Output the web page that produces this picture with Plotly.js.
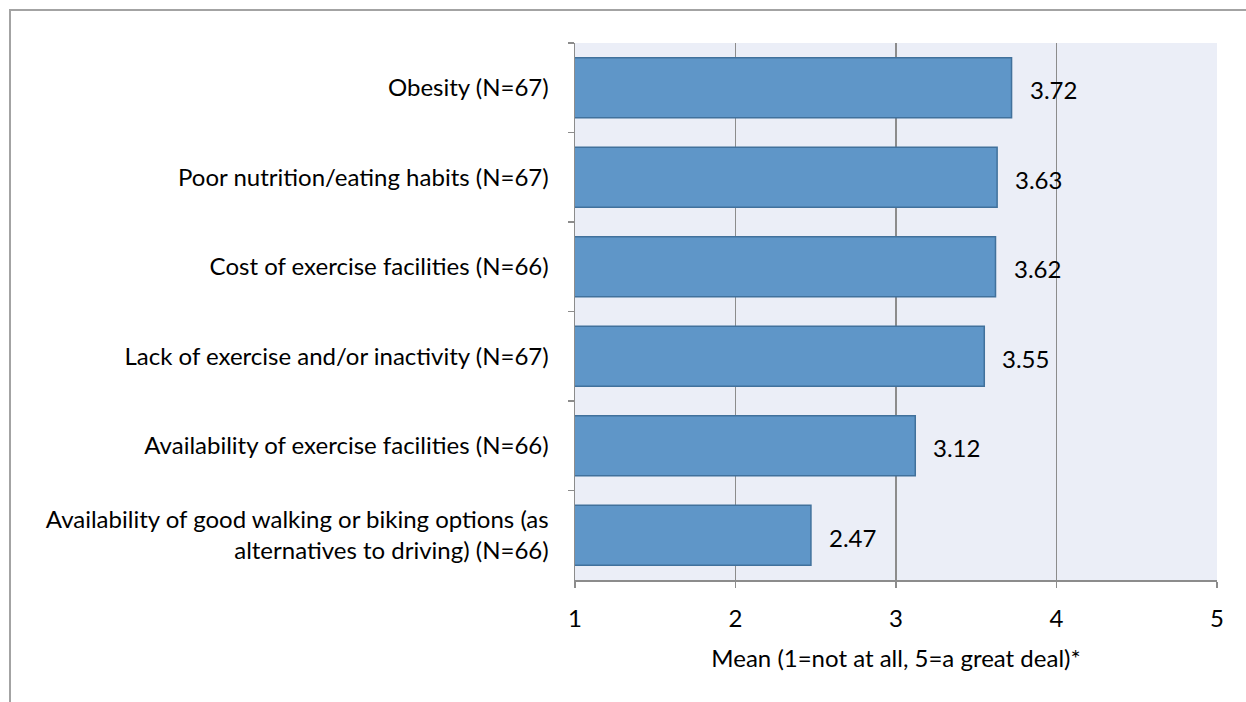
<!DOCTYPE html>
<html>
<head>
<meta charset="utf-8">
<script src="https://cdn.plot.ly/plotly-3.0.1.min.js"></script>
<style>
html,body{margin:0;padding:0;background:#fff;}
#wrap{position:relative;width:1246px;height:702px;overflow:hidden;}
#chart{width:1246px;height:702px;}
#frame{position:absolute;left:9px;top:9px;width:1400px;height:900px;border-left:2px solid #a3a3a3;border-top:2px solid #a3a3a3;pointer-events:none;}
</style>
</head>
<body>
<div id="wrap"><div id="chart"></div><div id="frame"></div></div>
<script>
const categories = [
  "Obesity (N=67)",
  "Poor nutrition/eating habits (N=67)",
  "Cost of exercise facilities (N=66)",
  "Lack of exercise and/or inactivity (N=67)",
  "Availability of exercise facilities (N=66)",
  "Availability of good walking or biking options (as<br>alternatives to driving) (N=66)"
];
const means = [3.72, 3.63, 3.62, 3.55, 3.12, 2.47];
const xTicks = [1, 2, 3, 4, 5];
const xTitle = "Mean (1=not at all, 5=a great deal)*";

const font = "Lato, Open Sans, sans-serif";
const fs = 24;

const trace = {
  type: "bar",
  orientation: "h",
  x: means,
  y: categories,
  width: 0.67,
  marker: {color: "#5F96C8", line: {color: "#41719C", width: 1.5}},
  hoverinfo: "skip"
};

const annotations = means.map((v, i) => ({
  x: v, y: categories[i], xref: "x", yref: "y",
  text: v.toFixed(2), showarrow: false,
  xanchor: "left", xshift: 16, yshift: -2,
  font: {family: font, size: fs, color: "#000"}
}));

const layout = {
  width: 1246, height: 702,
  margin: {l: 575, r: 29, t: 43, b: 122},
  paper_bgcolor: "#ffffff",
  plot_bgcolor: "#EBEEF7",
  showlegend: false,
  font: {family: font, size: fs, color: "#000"},
  xaxis: {
    range: [1, 5],
    tickvals: xTicks,
    ticktext: xTicks.map(String),
    showgrid: true, gridcolor: "#8c8c8c", gridwidth: 1.2,
    zeroline: false,
    showline: true, linecolor: "#8c8c8c", linewidth: 1.5,
    ticks: "outside", ticklen: 6, tickcolor: "#8c8c8c", tickwidth: 1.5,
    ticklabelstandoff: 11,
    tickfont: {family: font, size: fs, color: "#000"},
    title: {text: xTitle, font: {family: font, size: fs, color: "#000"}, standoff: 19}
  },
  yaxis: {
    type: "category",
    autorange: "reversed",
    showgrid: false, zeroline: false,
    showline: true, linecolor: "#8c8c8c", linewidth: 1.5,
    ticks: "outside", ticklen: 6, tickcolor: "#8c8c8c", tickwidth: 1.5,
    tickson: "boundaries",
    ticklabelstandoff: 20,
    tickfont: {family: font, size: fs, color: "#000"}
  },
  annotations: annotations
};

Plotly.newPlot("chart", [trace], layout, {displayModeBar: false, staticPlot: true});
</script>
</body>
</html>
